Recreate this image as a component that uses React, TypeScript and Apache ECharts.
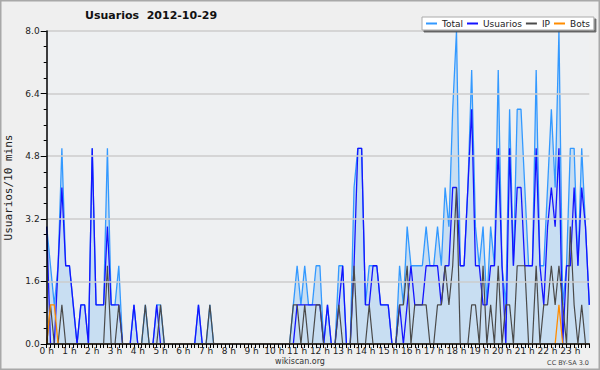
import React, { useEffect, useRef } from "react";
import * as echarts from "echarts";

const hourLabels = [
  "0 h", "1 h", "2 h", "3 h", "4 h", "5 h", "6 h", "7 h", "8 h", "9 h", "10 h", "11 h",
  "12 h", "13 h", "14 h", "15 h", "16 h", "17 h", "18 h", "19 h", "20 h", "21 h", "22 h", "23 h",
];
const minuteSteps = ["00", "10", "20", "30", "40", "50"];
const yTicks = [0, 1.6, 3.2, 4.8, 6.4, 8.0];

const seriesNames = ["Total", "Usuarios", "IP", "Bots"];

// 10-minute samples, one row per hour
const totalValues = [
  3, 2, 1, 2, 5, 2,
  2, 1, 0, 1, 1, 0,
  5, 1, 1, 1, 5, 1,
  1, 2, 0, 0, 0, 1,
  0, 0, 1, 0, 0, 1,
  1, 0, 0, 0, 0, 0,
  0, 0, 0, 0, 1, 0,
  0, 1, 0, 0, 0, 0,
  0, 0, 0, 0, 0, 0,
  0, 0, 0, 0, 0, 0,
  0, 0, 0, 0, 0, 1,
  2, 1, 2, 1, 1, 2,
  2, 0, 1, 0, 0, 2,
  2, 0, 0, 4, 5, 5,
  1, 2, 2, 2, 1, 1,
  1, 0, 0, 2, 1, 3,
  2, 2, 2, 2, 3, 2,
  2, 3, 2, 4, 3, 6,
  8, 2, 2, 4, 7, 3,
  2, 3, 1, 3, 2, 7,
  2, 1, 6, 2, 6, 6,
  4, 2, 2, 7, 2, 2,
  4, 6, 4, 8, 1, 2,
  5, 5, 2, 5, 3, 1,
];

const usuariosValues = [
  3, 0, 0, 2, 4, 2,
  2, 1, 0, 1, 1, 0,
  5, 1, 1, 1, 3, 1,
  1, 1, 0, 0, 0, 1,
  0, 0, 0, 0, 0, 1,
  0, 0, 0, 0, 0, 0,
  0, 0, 0, 0, 1, 0,
  0, 0, 0, 0, 0, 0,
  0, 0, 0, 0, 0, 0,
  0, 0, 0, 0, 0, 0,
  0, 0, 0, 0, 0, 0,
  1, 1, 1, 1, 1, 1,
  1, 0, 1, 0, 0, 1,
  2, 0, 0, 2, 5, 5,
  1, 1, 2, 2, 1, 1,
  1, 0, 0, 1, 0, 1,
  2, 1, 1, 1, 2, 2,
  2, 2, 1, 2, 2, 4,
  4, 2, 2, 4, 6, 2,
  2, 1, 1, 2, 2, 5,
  2, 0, 5, 2, 4, 4,
  2, 2, 2, 5, 2, 1,
  3, 4, 3, 5, 0, 2,
  2, 4, 2, 4, 3, 1,
];

const ipValues = [
  0, 1, 0, 0, 1, 0,
  0, 0, 0, 0, 0, 0,
  0, 0, 0, 0, 2, 0,
  0, 1, 0, 0, 0, 0,
  0, 0, 1, 0, 0, 0,
  1, 0, 0, 0, 0, 0,
  0, 0, 0, 0, 0, 0,
  0, 1, 0, 0, 0, 0,
  0, 0, 0, 0, 0, 0,
  0, 0, 0, 0, 0, 0,
  0, 0, 0, 0, 0, 1,
  1, 0, 1, 0, 0, 1,
  1, 0, 0, 0, 0, 1,
  0, 0, 0, 2, 0, 0,
  0, 1, 0, 0, 0, 0,
  0, 0, 0, 1, 1, 2,
  0, 1, 1, 1, 1, 0,
  0, 1, 1, 2, 1, 2,
  4, 0, 0, 0, 1, 1,
  0, 2, 0, 1, 0, 2,
  0, 1, 1, 0, 2, 2,
  2, 0, 0, 2, 0, 1,
  1, 2, 1, 2, 1, 0,
  3, 1, 0, 1, 0, 0,
];

const botsValues = [
  0, 1, 1, 0, 0, 0,
  0, 0, 0, 0, 0, 0,
  0, 0, 0, 0, 0, 0,
  0, 0, 0, 0, 0, 0,
  0, 0, 0, 0, 0, 0,
  0, 0, 0, 0, 0, 0,
  0, 0, 0, 0, 0, 0,
  0, 0, 0, 0, 0, 0,
  0, 0, 0, 0, 0, 0,
  0, 0, 0, 0, 0, 0,
  0, 0, 0, 0, 0, 0,
  0, 0, 0, 0, 0, 0,
  0, 0, 0, 0, 0, 0,
  0, 0, 0, 0, 0, 0,
  0, 0, 0, 0, 0, 0,
  0, 0, 0, 0, 0, 0,
  0, 0, 0, 0, 0, 0,
  0, 0, 0, 0, 0, 0,
  0, 0, 0, 0, 0, 0,
  0, 0, 0, 0, 0, 0,
  0, 0, 0, 0, 0, 0,
  0, 0, 0, 0, 0, 0,
  0, 0, 0, 1, 0, 0,
  0, 0, 0, 0, 0, 0,
];

const seriesColors = ["#3399ff", "#1414ff", "#4a4a4a", "#ff8c00"];

const categories: string[] = [];
hourLabels.forEach((h, hi) => {
  minuteSteps.forEach((m) => categories.push(`${hi}:${m}`));
});

export default function App() {
  const ref = useRef<HTMLDivElement>(null);
  useEffect(() => {
    if (!ref.current) return;
    const chart = echarts.init(ref.current, undefined, { renderer: "svg" });
    const font = "DejaVu Sans";
    const valuesList = [totalValues, usuariosValues, ipValues, botsValues];
    chart.setOption({
      animation: false,
      backgroundColor: "#efefef",
      title: {
        text: "Usuarios  2012-10-29",
        left: 85,
        top: 10,
        padding: 0,
        textStyle: { fontFamily: font, fontSize: 11, fontWeight: "bold", color: "#111" },
      },
      legend: {
        data: seriesNames,
        left: 422,
        top: 17,
        itemWidth: 11,
        itemHeight: 2,
        itemGap: 4,
        icon: "rect",
        padding: [2, 4, 2, 4],
        backgroundColor: "#ffffff",
        borderColor: "#aaaaaa",
        borderWidth: 1,
        shadowColor: "rgba(60,60,60,0.75)",
        shadowOffsetX: 2,
        shadowOffsetY: 2,
        shadowBlur: 0,
        textStyle: { fontFamily: font, fontSize: 9, color: "#222" },
        z: 20,
      },
      grid: {
        left: 46.7,
        right: 10.7,
        top: 31,
        bottom: 26,
        show: true,
        backgroundColor: "#eef0f2",
        borderWidth: 0,
        containLabel: false,
        outerBoundsMode: "none",
      },
      xAxis: {
        type: "category",
        data: categories,
        boundaryGap: false,
        z: 10,
        axisLine: { lineStyle: { color: "#000", width: 1.5 } },
        axisTick: { show: true, interval: 0, length: 4, lineStyle: { color: "#000" } },
        axisLabel: {
          interval: (i: number) => i % 6 === 0,
          formatter: (v: string) => hourLabels[parseInt(v.split(":")[0], 10)],
          fontFamily: font,
          fontSize: 9,
          color: "#222",
          margin: 2,
        },
        splitLine: { show: false },
      },
      yAxis: {
        type: "value",
        min: yTicks[0],
        max: yTicks[yTicks.length - 1],
        interval: 1.6,
        name: "Usuarios/10 mins",
        nameLocation: "middle",
        nameRotate: 90,
        nameGap: 30,
        nameTextStyle: { fontFamily: "DejaVu Sans Mono", fontSize: 11, color: "#222" },
        z: 10,
        axisLine: { show: true, lineStyle: { color: "#000", width: 1.5 } },
        axisTick: { show: true, length: 6, lineStyle: { color: "#000" } },
        minorTick: { show: true, splitNumber: 4, length: 3, lineStyle: { color: "#000" } },
        axisLabel: {
          formatter: (v: number) => v.toFixed(1),
          fontFamily: font,
          fontSize: 9,
          color: "#222",
          margin: 7,
        },
        splitLine: { show: true, lineStyle: { color: "#cccccc", width: 1.5 } },
      },
      series: seriesNames.map((name, k) => ({
        name,
        type: "line",
        data: valuesList[k],
        symbol: "none",
        itemStyle: { color: seriesColors[k] },
        lineStyle: { color: seriesColors[k], width: k === 2 ? 1.2 : 1.3 },
        areaStyle: k === 0 ? { color: "rgba(110,180,240,0.42)" } : undefined,
        z: 2 + k,
      })),
      graphic: [
        {
          type: "rect",
          shape: { x: 0.75, y: 0.75, width: 598.5, height: 368.5 },
          style: { fill: "none", stroke: "#a8a8a8", lineWidth: 1.5 },
          silent: true,
        },
        {
          type: "text",
          x: 300,
          y: 361.5,
          style: {
            text: "wikiscan.org",
            fontFamily: font,
            fontSize: 8,
            fill: "#333",
            align: "center",
            verticalAlign: "middle",
          },
        },
        {
          type: "text",
          x: 589,
          y: 363,
          style: {
            text: "CC BY-SA 3.0",
            fontFamily: font,
            fontSize: 6.5,
            fill: "#444",
            align: "right",
            verticalAlign: "middle",
          },
        },
      ],
    });
    return () => chart.dispose();
  }, []);
  return (
    <div
      ref={ref}
      style={{ position: "absolute", left: 0, top: 0, width: 600, height: 370 }}
    />
  );
}
